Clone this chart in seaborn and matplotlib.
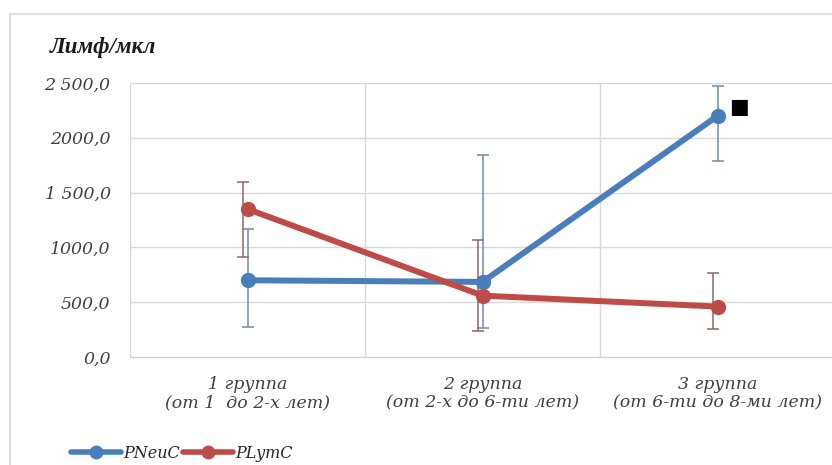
import matplotlib
matplotlib.use("Agg")
import matplotlib.pyplot as plt
import seaborn as sns
import pandas as pd
import numpy as np
from matplotlib.lines import Line2D

groups = ["1 группа\n(от 1  до 2-х лет)", "2 группа\n(от 2-х до 6-ти лет)", "3 группа\n(от 6-ти до 8-ми лет)"]
pneuc = [700, 685, 2200]
pneuc_err_low = [430, 420, 410]
pneuc_err_high = [470, 1155, 275]
plymc = [1350, 560, 460]
plymc_err_low = [435, 320, 205]
plymc_err_high = [250, 510, 310]
ytick_vals = [0, 500, 1000, 1500, 2000, 2500]
ytick_labels = ["0,0", "500,0", "1000,0", "1 500,0", "2000,0", "2 500,0"]
series_names = ["PNeuC", "PLymC"]

blue = "#4A7EBB"
red = "#BE4B48"
blue_err = "#6F8CA8"
red_err = "#8C6A66"

sns.set_theme(style="white")
plt.rcParams["font.family"] = ["DejaVu Serif", "DejaVu Sans"]

fig = plt.figure(figsize=(8.32, 4.65), dpi=100)
ax = fig.add_axes([130 / 832, 108 / 465, 702 / 832, 274 / 465])

x = np.arange(len(groups))
df = pd.DataFrame({
    "x": np.concatenate([x, x]),
    "value": pneuc + plymc,
    "series": [series_names[0]] * 3 + [series_names[1]] * 3,
})

ax.errorbar(x, pneuc, yerr=[pneuc_err_low, pneuc_err_high], fmt="none",
            ecolor=blue_err, elinewidth=1.1, capsize=4, capthick=1.1, zorder=2)
ax.errorbar(x - 0.02, plymc, yerr=[plymc_err_low, plymc_err_high], fmt="none",
            ecolor=red_err, elinewidth=1.1, capsize=4, capthick=1.1, zorder=2)

sns.lineplot(data=df, x="x", y="value", hue="series", palette=[blue, red],
             marker="o", markersize=11, linewidth=4.3, markeredgewidth=0,
             ax=ax, legend=False, zorder=3)

tick_font = dict(fontsize=12.5, fontstyle="italic", color="#404040")
ax.set_xlim(-0.5, 2.487)
ax.set_ylim(0, 2500)
ax.set_yticks(ytick_vals)
ax.set_yticklabels(ytick_labels, **tick_font)
ax.set_xticks(x)
ax.set_xticklabels(groups, linespacing=1.05, **tick_font)
ax.tick_params(axis="y", length=0, pad=14)
ax.tick_params(axis="x", length=0, pad=14)
ax.set_xlabel("")
ax.set_ylabel("")

for v in ytick_vals[1:]:
    ax.axhline(v, color="#D9D9D9", linewidth=1, zorder=0)
for b in [-0.5, 0.5, 1.5, 2.5]:
    ax.axvline(b, color="#D9D9D9", linewidth=1, zorder=0)
for s in ["top", "right", "left"]:
    ax.spines[s].set_visible(False)
ax.spines["bottom"].set_color("#D0D0D0")
ax.spines["bottom"].set_linewidth(1)

ax.annotate("■", xy=(x[2], pneuc[2]), xytext=(21, 9), textcoords="offset pixels",
            ha="center", va="center", fontsize=15, color="black",
            family=["DejaVu Sans"])

fig.text(50 / 832, 1 - 48 / 465, "Лимф/мкл", fontsize=16.5, fontweight="bold",
         fontstyle="italic", va="center", ha="left", color="#1a1a1a",
         family=["Liberation Serif", "DejaVu Serif"])

fig.add_artist(Line2D([10 / 832, 1.0], [1 - 14 / 465, 1 - 14 / 465], color="#D9D9D9", linewidth=1.2))
fig.add_artist(Line2D([10 / 832, 10 / 832], [0, 1 - 14 / 465], color="#D9D9D9", linewidth=1.2))

handles = [Line2D([], [], color=blue, marker="o", markersize=10, linewidth=4, markeredgewidth=0),
           Line2D([], [], color=red, marker="o", markersize=10, linewidth=4, markeredgewidth=0)]
leg = fig.legend(handles, series_names, loc="center left", bbox_to_anchor=(57 / 832, 1 - 453 / 465),
                 frameon=False, ncol=2, handlelength=3.1, handletextpad=0.15, columnspacing=0.2,
                 prop={"family": "DejaVu Serif", "style": "italic", "size": 11.5})
for t in leg.get_texts():
    t.set_color("#262626")

fig.savefig("out.png", dpi=100)
